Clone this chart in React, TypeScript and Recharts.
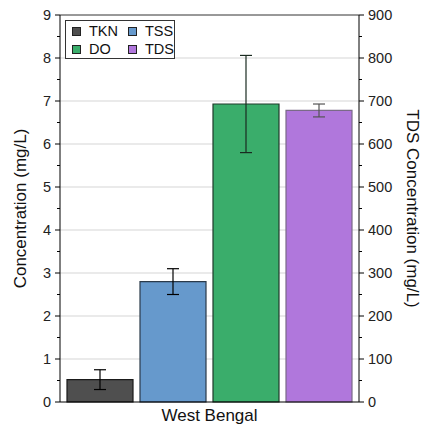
import React from 'react'
import { BarChart, Bar, XAxis, YAxis, CartesianGrid, ErrorBar, ReferenceLine } from 'recharts'

const site = ['West Bengal']
const tkn = [0.52]
const tknErr = [0.23]
const tss = [2.8]
const tssErr = [0.3]
const dox = [6.93]
const doErr = [1.13]
const tds = [678]
const tdsErr = [15]

const leftTicks = [0, 0.5, 1, 1.5, 2, 2.5, 3, 3.5, 4, 4.5, 5, 5.5, 6, 6.5, 7, 7.5, 8, 8.5, 9]
const rightTicks = [0, 50, 100, 150, 200, 250, 300, 350, 400, 450, 500, 550, 600, 650, 700, 750, 800, 850, 900]
const gridValues = [1, 2, 3, 4, 5, 6, 7, 8]

const series = [
  { key: 'TKN', fill: '#4f4f4f', stroke: '#1a1a1a' },
  { key: 'TSS', fill: '#6699cc', stroke: '#2a3a4a' },
  { key: 'DO', fill: '#3aad6b', stroke: '#1f3a2a' },
  { key: 'TDS', fill: '#b077dc', stroke: '#7a6a88' },
]

const data = site.map((name, i) => ({
  name,
  TKN: tkn[i], TKNerr: tknErr[i],
  TSS: tss[i], TSSerr: tssErr[i],
  DO: dox[i], DOerr: doErr[i],
  TDS: tds[i], TDSerr: tdsErr[i],
}))

const FONT = 'Liberation Sans, Arial, sans-serif'

// outward tick: long on whole steps (with label), short on half steps
const AxisTick = (side: 'left' | 'right', step: number) => (props: any) => {
  const { x, y, payload } = props
  const v = payload.value
  const major = Math.abs(v / step - Math.round(v / step)) < 1e-6
  const len = major ? 5 : 3
  const dir = side === 'left' ? -1 : 1
  return (
    <g>
      <line x1={x} y1={y} x2={x + dir * len} y2={y} stroke="#000" strokeWidth={1} />
      {major && (
        <text x={x + dir * 9} y={y} dy={5} textAnchor={side === 'left' ? 'end' : 'start'}
          fontSize={14.5} fontFamily={FONT} fill="#222">{v}</text>
      )}
    </g>
  )
}

const AxisTitle = (text: string, cx: number, angle: number) => (props: any) => {
  const vb = props.viewBox
  const cy = vb.y + vb.height / 2
  return (
    <text x={cx} y={cy} transform={`rotate(${angle} ${cx} ${cy})`} textAnchor="middle"
      dominantBaseline="central" fontSize={17} fontFamily={FONT} fill="#111">{text}</text>
  )
}

const LegendBox = () => (
  <div style={{ position: 'absolute', left: 65, top: 20, border: '1px solid #333', background: '#fff', width: 108, height: 37, fontFamily: FONT, fontSize: 14.5, color: '#111', boxSizing: 'content-box' }}>
    {series.map((s, i) => {
      const col = i % 2, row = Math.floor(i / 2)
      return (
        <div key={s.key} style={{ position: 'absolute', left: 6 + col * 56, top: 2 + row * 18, display: 'flex', alignItems: 'center', lineHeight: '17px' }}>
          <span style={{ display: 'inline-block', width: 7, height: 7, background: s.fill, border: '1px solid #222', marginRight: 8 }} />
          <span>{s.key}</span>
        </div>
      )
    })}
  </div>
)

export default function App() {
  return (
    <div style={{ position: 'absolute', left: 0, top: 0, width: 422, height: 425, background: '#fff' }}>
      <BarChart width={422} height={425} data={data}
        margin={{ top: 15, right: 0, bottom: 0, left: 0 }}
        barGap={7} barCategoryGap={7}>
        <CartesianGrid yAxisId="left" vertical={false} horizontalValues={gridValues} stroke="#d6d6d6" strokeWidth={1.2} />
        <XAxis dataKey="name" height={23} tickLine={false} tickSize={0} tickMargin={7} axisLine={{ stroke: '#000' }}
          tick={{ fontSize: 17, fontFamily: FONT, fill: '#111' }} />
        <YAxis yAxisId="left" orientation="left" width={60} domain={[0, 9]} ticks={leftTicks}
          interval={0} tickLine={false} tickSize={0} tickMargin={0} axisLine={{ stroke: '#000' }}
          tick={AxisTick('left', 1)}
          label={{ content: AxisTitle('Concentration (mg/L)', 20, -90) }} />
        <YAxis yAxisId="right" orientation="right" width={63} domain={[0, 900]} ticks={rightTicks}
          interval={0} tickLine={false} tickSize={0} tickMargin={0} axisLine={{ stroke: '#000' }}
          tick={AxisTick('right', 100)}
          label={{ content: AxisTitle('TDS Concentration (mg/L)', 412, 90) }} />
        <ReferenceLine yAxisId="left" y={9} stroke="#333" strokeWidth={1} />
        {series.map((s) => (
          <Bar key={s.key} dataKey={s.key} yAxisId={s.key === 'TDS' ? 'right' : 'left'}
            fill={s.fill} stroke={s.stroke} strokeWidth={1.2} isAnimationActive={false}>
            <ErrorBar dataKey={`${s.key}err`} width={6} strokeWidth={1.2}
              stroke={s.key === 'TDS' ? '#555' : s.key === 'DO' ? '#1a2a20' : '#000'} />
          </Bar>
        ))}
      </BarChart>
      <LegendBox />
    </div>
  )
}
